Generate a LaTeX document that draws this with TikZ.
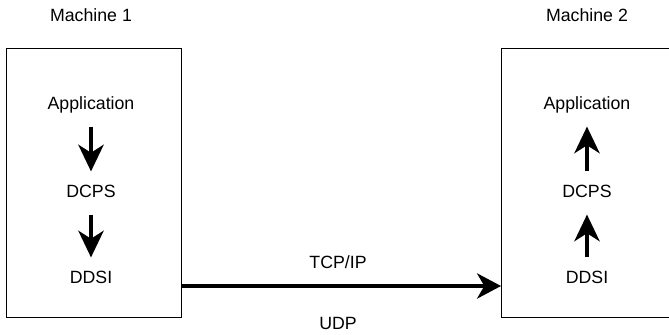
\documentclass[tikz,border=0pt]{standalone}
\usepackage{fontspec}
\setmainfont{Liberation Sans}
\usetikzlibrary{arrows.meta}

\begin{document}
\begin{tikzpicture}[x=0.75pt, y=-0.75pt,
		txt/.style={inner sep=0, text height=9.5pt, text depth=2.5pt, font=\fontsize{13.3}{16}\selectfont},
		machine/.style={draw, line width=0.75pt, outer sep=0, inner sep=0, minimum width=131.25pt, minimum height=201.75pt},
		layer/.style={line width=2.6pt, -{Stealth[length=20pt, width=19pt, inset=6pt]}, shorten <=10pt, shorten >=10pt},
		link/.style={line width=2.4pt, -{Stealth[length=18pt, width=19pt, inset=5.5pt]}}]
		\useasboundingbox (0,0) rectangle (669,335);
		
		% Machines
		\node[machine] (machine1) at (93.5,183.5) {};
		\node[machine] (machine2) at (588.5,183.5) {};
		\node[txt] (title1) at (91,17) {Machine 1};
		\node[txt] (title2) at (587,17) {Machine 2};
		
		% Layers
		\node[txt] (app1) at (91,105) {Application};
		\node[txt] (dcps1) at (91,193) {DCPS};
		\node[txt] (ddsi1) at (91,279) {DDSI};
		\node[txt] (app2) at (587,105) {Application};
		\node[txt] (dcps2) at (587,193) {DCPS};
		\node[txt] (ddsi2) at (587,279) {DDSI};
		
		% Connections
		\draw[layer] (app1) -- (dcps1);
		\draw[layer] (dcps1) -- (ddsi1);
		\draw[layer] (dcps2) -- (app2);
		\draw[layer] (ddsi2) -- (dcps2);
		
		\coordinate (out1) at (181,286);
		\coordinate (in2) at (501,286);
		\draw[link] (out1) -- (in2);
		
		% Labels
		\node[txt] (tcp) at (338,264) {TCP/IP};
		\node[txt] (udp) at (338,325) {UDP};
	\end{tikzpicture}
\end{document}
